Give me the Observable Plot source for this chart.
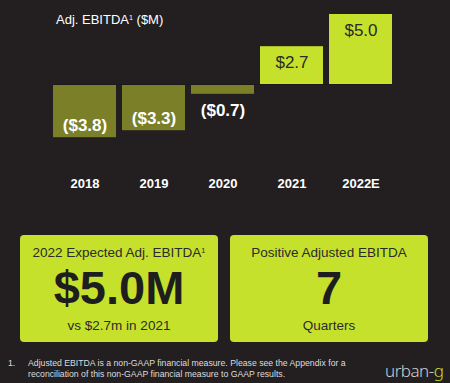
<!DOCTYPE html>
<html>
<head>
<meta charset="utf-8">
<script src="https://cdn.jsdelivr.net/npm/d3@7"></script>
<script src="https://cdn.jsdelivr.net/npm/@observablehq/plot@0.6"></script>
<style>
  html, body { margin: 0; padding: 0; background: #231f20; }
  body { width: 450px; height: 383px; overflow: hidden; font-family: "Liberation Sans", Arial, Helvetica, sans-serif; }
  #wrap { position: relative; width: 450px; height: 383px; }
  #chart { position: absolute; left: 0; top: 0; }
  #title { position: absolute; left: 56px; top: 12px; color: #fff; font-size: 13px; line-height: 15px; white-space: nowrap; }
  #title sup, .box sup { font-size: 0.55em; vertical-align: 0.55em; line-height: 0; }
  .box { position: absolute; top: 235px; height: 107px; width: 198px; background: #c6e12c; border-radius: 4px; color: #2b2b2b; text-align: center; }
  .box .head { position: absolute; left: 0; right: 0; top: 10px; font-size: 13.5px; line-height: 16px; white-space: nowrap; }
  .box .big { position: absolute; left: 0; right: 0; top: 25px; font-size: 47px; font-weight: bold; line-height: 56px; color: #1e1e1e; }
  .box .sub { position: absolute; left: 0; right: 0; top: 83px; font-size: 13.5px; line-height: 16px; }
  #foot { position: absolute; left: 8px; top: 358px; color: #ddd; font-size: 8.7px; line-height: 10.5px; white-space: nowrap; }
  #foot .num { position: absolute; left: 0; top: 0; }
  #foot .txt { position: absolute; left: 20px; top: 0; }
  #logo { position: absolute; left: 385px; top: 361px; color: #d0d0d0; font-family: "Noto Sans", "DejaVu Sans", sans-serif; font-weight: 300; font-size: 17px; line-height: 19px; white-space: nowrap; letter-spacing: -0.5px; }
  #logo span { color: #c6e12c; }
</style>
</head>
<body>
<div id="wrap">
  <div id="chart"></div>
  <div id="title">Adj. EBITDA<sup>1</sup> ($M)</div>
  <div class="box" style="left:20px;">
    <div class="head">2022 Expected Adj. EBITDA<sup>1</sup></div>
    <div class="big">$5.0M</div>
    <div class="sub">vs $2.7m in 2021</div>
  </div>
  <div class="box" style="left:230px;">
    <div class="head">Positive Adjusted EBITDA</div>
    <div class="big">7</div>
    <div class="sub">Quarters</div>
  </div>
  <div id="foot">
    <div class="num">1.</div>
    <div class="txt">Adjusted EBITDA is a non-GAAP financial measure. Please see the Appendix for a<br>reconciliation of this non-GAAP financial measure to GAAP results.</div>
  </div>
  <div id="logo">urban-<span>g</span></div>
</div>
<script>
const years = ["2018", "2019", "2020", "2021", "2022E"];
const values = [-3.8, -3.3, -0.7, 2.7, 5.0];
const labels = ["($3.8)", "($3.3)", "($0.7)", "$2.7", "$5.0"];

const data = years.map((year, i) => ({year, value: values[i], label: labels[i]}));
const lime = "#c6e12c";
const olive = "#7b7f28";

const chart = Plot.plot({
  width: 450,
  height: 200,
  marginLeft: 53,
  marginRight: 58,
  marginTop: 0,
  marginBottom: 25,
  style: {background: "transparent", color: "#fff", fontFamily: "'Liberation Sans', Arial, Helvetica, sans-serif"},
  x: {domain: years, paddingInner: 0.087, paddingOuter: 0, label: null},
  y: {domain: [0, 5], range: [84, 14], axis: null},
  marks: [
    Plot.barY(data, {x: "year", y: "value", fill: d => d.value < 0 ? olive : lime}),
    Plot.ruleY([0], {stroke: "#1c191a", strokeWidth: 1}),
    Plot.text(data.filter(d => d.value <= -1), {x: "year", y: "value", text: "label", dy: -12, fill: "#fff", fontSize: 17, fontWeight: "bold"}),
    Plot.text(data.filter(d => d.value < 0 && d.value > -1), {x: "year", y: "value", text: "label", dy: 16, fill: "#fff", fontSize: 17, fontWeight: "bold"}),
    Plot.text(data.filter(d => d.value > 0), {x: "year", y: "value", text: "label", dy: 16, fill: "#2a2a2a", fontSize: 17}),
    Plot.axisX({tickSize: 0, tickPadding: 3, fontSize: 13, fontWeight: "bold", fill: "#fff", label: null})
  ]
});
document.getElementById("chart").appendChild(chart);
</script>
</body>
</html>
